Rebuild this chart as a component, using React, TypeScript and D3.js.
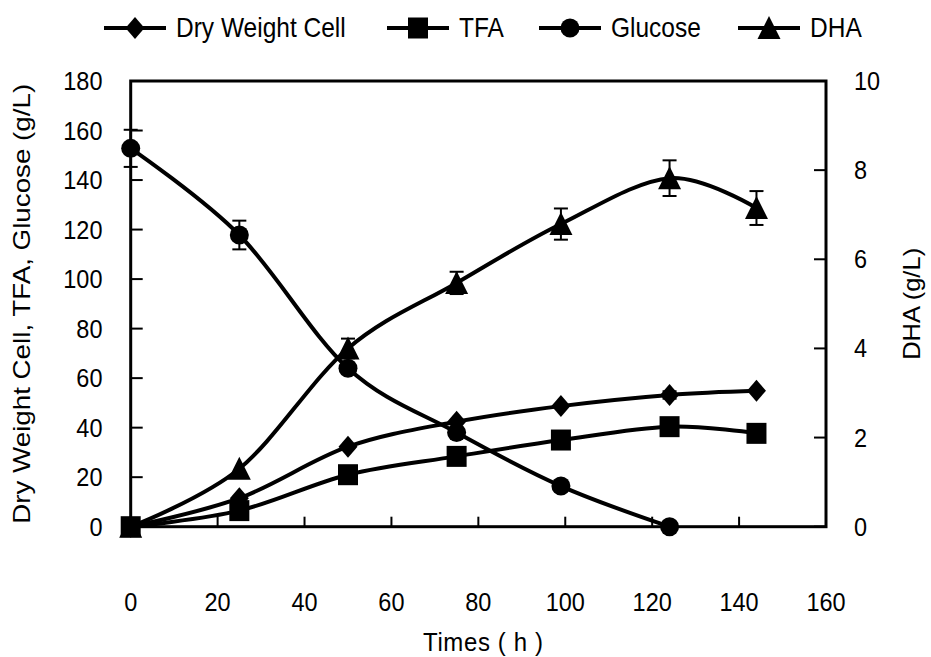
import React from "react";
import * as d3 from "d3";

// Sampling times (h)
const times = [0, 25, 50, 75, 99, 124, 144];
const glucoseTimes = [0, 25, 50, 75, 99, 124];

// Left axis series (g/L)
const dryWeightCell = [0, 11.5, 32.3, 42.4, 48.7, 53.2, 54.9];
const dryWeightCellErr = [0, 0, 0, 0, 0, 1.5, 0];
const tfa = [0, 6.5, 21, 28.4, 35, 40.4, 37.7];
const tfaErr = [0, 0, 0, 0, 0, 0, 0];
const glucose = [152.8, 117.8, 64, 38, 16.4, 0];
const glucoseErr = [7.5, 5.8, 0, 0, 0, 0];

// Right axis series (g/L)
const dha = [0, 1.3, 4.0, 5.47, 6.79, 7.82, 7.15];
const dhaErr = [0, 0, 0.22, 0.25, 0.35, 0.4, 0.38];

// Axis ticks
const xTicks = [0, 20, 40, 60, 80, 100, 120, 140, 160];
const yLeftTicks = [0, 20, 40, 60, 80, 100, 120, 140, 160, 180];
const yRightTicks = [0, 2, 4, 6, 8, 10];

const seriesNames = ["Dry Weight Cell", "TFA", "Glucose", "DHA"];

const W = 931;
const H = 657;
const FONT = "'Liberation Sans', Arial, Helvetica, sans-serif";

const plot = { left: 130.7, right: 826, top: 81, bottom: 526.7 };

const x = d3.scaleLinear().domain([0, 160]).range([plot.left, plot.right]);
const yL = d3.scaleLinear().domain([0, 180]).range([plot.bottom, plot.top]);
const yR = d3.scaleLinear().domain([0, 10]).range([plot.bottom, plot.top]);

type Shape = "diamond" | "square" | "circle" | "triangle";

function markerPath(shape: Shape): string {
  switch (shape) {
    case "diamond":
      return "M0,-11L9.5,0L0,11L-9.5,0Z";
    case "square":
      return "M-10,-10.5H10V10.5H-10Z";
    case "circle":
      return "M9.5,0A9.5,9.5,0,1,1,-9.5,0A9.5,9.5,0,1,1,9.5,0Z";
    case "triangle":
      return "M0,-12L11.5,11L-11.5,11Z";
  }
}

const smooth = d3.curveCardinal.tension(0);

interface Series {
  t: number[];
  v: number[];
  err: number[];
  y: d3.ScaleLinear<number, number>;
  shape: Shape;
}

const series: Series[] = [
  { t: times, v: dryWeightCell, err: dryWeightCellErr, y: yL, shape: "diamond" },
  { t: times, v: tfa, err: tfaErr, y: yL, shape: "square" },
  { t: glucoseTimes, v: glucose, err: glucoseErr, y: yL, shape: "circle" },
  { t: times, v: dha, err: dhaErr, y: yR, shape: "triangle" },
];

const legendX = [104, 387, 539, 738];

// Tick labels are drawn slightly taller than wide
const labelStretch = 1.1;

export default function App() {
  return (
    <svg
      width={W}
      height={H}
      style={{ position: "absolute", left: 0, top: 0, background: "#fff" }}
      fontFamily={FONT}
    >
      <rect width={W} height={H} fill="#fff" />

      {/* Legend */}
      <g>
        {series.map((s, i) => (
          <g key={i} transform={`translate(${legendX[i]},28)`}>
            <line x1={0} x2={62} y1={0} y2={0} stroke="#000" strokeWidth={4} />
            <path d={markerPath(s.shape)} transform="translate(31,0)" fill="#000" />
            <text
              transform={`translate(72,8.5) scale(1,${labelStretch})`}
              fontSize={24.5}
              fill="#000"
            >
              {seriesNames[i]}
            </text>
          </g>
        ))}
      </g>

      {/* Frame */}
      <rect
        x={plot.left}
        y={plot.top}
        width={plot.right - plot.left}
        height={plot.bottom - plot.top}
        fill="none"
        stroke="#000"
        strokeWidth={3}
      />

      {/* X ticks */}
      {xTicks.map((t) => (
        <g key={`x${t}`}>
          <line x1={x(t)} x2={x(t)} y1={plot.bottom} y2={plot.bottom - 10} stroke="#000" strokeWidth={2} />
          <text
            transform={`translate(${x(t)},611) scale(1,${labelStretch})`}
            fontSize={23.5}
            textAnchor="middle"
            fill="#000"
          >
            {t}
          </text>
        </g>
      ))}

      {/* Left Y ticks */}
      {yLeftTicks.map((t) => (
        <g key={`yl${t}`}>
          <line x1={plot.left} x2={plot.left + 12} y1={yL(t)} y2={yL(t)} stroke="#000" strokeWidth={2} />
          <text
            transform={`translate(102.5,${yL(t) + 9}) scale(1,${labelStretch})`}
            fontSize={23.5}
            textAnchor="end"
            fill="#000"
          >
            {t}
          </text>
        </g>
      ))}

      {/* Right Y ticks */}
      {yRightTicks.map((t) => (
        <g key={`yr${t}`}>
          <line x1={plot.right - 12} x2={plot.right} y1={yR(t)} y2={yR(t)} stroke="#000" strokeWidth={2} />
          <text
            transform={`translate(854,${yR(t) + 9}) scale(1,${labelStretch})`}
            fontSize={23.5}
            textAnchor="start"
            fill="#000"
          >
            {t}
          </text>
        </g>
      ))}

      {/* Axis titles */}
      <text
        transform={`translate(483,651) scale(1,${labelStretch})`}
        fontSize={24}
        textAnchor="middle"
        fill="#000"
        textLength={120}
        lengthAdjust="spacing"
      >
        Times ( h )
      </text>
      <text
        transform={`translate(30,${(plot.top + plot.bottom) / 2}) rotate(-90)`}
        fontSize={24}
        textAnchor="middle"
        fill="#000"
        textLength={440}
        lengthAdjust="spacingAndGlyphs"
      >
        Dry Weight Cell, TFA, Glucose (g/L)
      </text>
      <text
        transform={`translate(920,${(plot.top + plot.bottom) / 2}) rotate(-90)`}
        fontSize={24}
        textAnchor="middle"
        fill="#000"
        textLength={112}
        lengthAdjust="spacingAndGlyphs"
      >
        DHA (g/L)
      </text>

      {/* Series lines */}
      {series.map((s, i) => {
        const line = d3
          .line<number>()
          .x((_, j) => x(s.t[j]))
          .y((d) => s.y(d))
          .curve(smooth);
        return (
          <path key={`l${i}`} d={line(s.v) || ""} fill="none" stroke="#000" strokeWidth={4} strokeLinejoin="round" />
        );
      })}

      {/* Error bars */}
      {series.map((s, i) =>
        s.v.map((v, j) =>
          s.err[j] > 0 ? (
            <g key={`e${i}-${j}`} stroke="#000" strokeWidth={2}>
              <line x1={x(s.t[j])} x2={x(s.t[j])} y1={s.y(v - s.err[j])} y2={s.y(v + s.err[j])} />
              <line x1={x(s.t[j]) - 7} x2={x(s.t[j]) + 7} y1={s.y(v + s.err[j])} y2={s.y(v + s.err[j])} />
              <line x1={x(s.t[j]) - 7} x2={x(s.t[j]) + 7} y1={s.y(v - s.err[j])} y2={s.y(v - s.err[j])} />
            </g>
          ) : null
        )
      )}

      {/* Markers */}
      {series.map((s, i) =>
        s.v.map((v, j) => (
          <path
            key={`m${i}-${j}`}
            d={markerPath(s.shape)}
            transform={`translate(${x(s.t[j])},${s.y(v)})`}
            fill="#000"
          />
        ))
      )}
    </svg>
  );
}
